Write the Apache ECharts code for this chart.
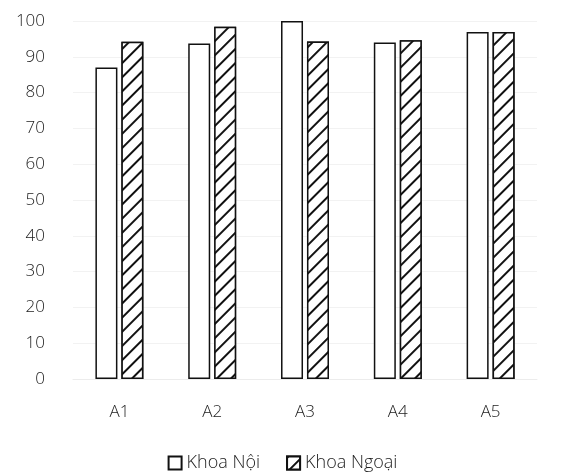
<!DOCTYPE html>
<html><head><meta charset="utf-8">
<script src="https://cdn.jsdelivr.net/npm/echarts@6/dist/echarts.min.js"></script>
<style>html,body{margin:0;padding:0;background:#fff}#c{width:565px;height:472px}</style>
</head><body><div id="c"></div>
<script>
const categories = ['A1', 'A2', 'A3', 'A4', 'A5'];
const khoaNoi = [87, 93.7, 100, 94, 96.9];
const khoaNgoai = [94.2, 98.4, 94.3, 94.6, 96.9];
const seriesNames = ['Khoa Nội', 'Khoa Ngoại'];

const font = '"Open Sans", "Noto Sans", sans-serif';
const chart = echarts.init(document.getElementById('c'));
chart.setOption({
  animation: false,
  backgroundColor: '#fff',
  grid: { left: 73, right: 28, top: 21, bottom: 93 },
  legend: {
    top: 454, left: 'center', itemWidth: 13, itemHeight: 13, itemGap: 26,
    icon: 'rect', padding: 0,
    textStyle: { fontFamily: font, fontSize: 18, color: '#222', fontWeight: 300 },
    data: seriesNames
  },
  xAxis: {
    type: 'category', data: categories,
    axisLine: { show: true, lineStyle: { color: '#ececec' } },
    axisTick: { show: false },
    axisLabel: { margin: 25, fontFamily: font, fontSize: 17, color: '#222', fontWeight: 300 }
  },
  yAxis: {
    type: 'value', min: 0, max: 100, interval: 10,
    axisLine: { show: false }, axisTick: { show: false },
    splitLine: { lineStyle: { color: '#f2f2f2' } },
    axisLabel: { margin: 28, fontFamily: font, fontSize: 17, color: '#222', fontWeight: 300 }
  },
  series: [
    {
      name: seriesNames[0], type: 'bar', data: khoaNoi,
      barWidth: 22, barGap: '18%',
      itemStyle: { color: '#fff', borderColor: '#111', borderWidth: 1.5 }
    },
    {
      name: seriesNames[1], type: 'bar', data: khoaNgoai,
      barWidth: 22,
      itemStyle: {
        color: '#fff', borderColor: '#111', borderWidth: 1.5,
        decal: {
          symbol: 'rect', color: '#111', backgroundColor: '#fff',
          dashArrayX: [1, 0], dashArrayY: [1.6, 8], rotation: -Math.PI / 4
        }
      }
    }
  ]
});
</script></body></html>
